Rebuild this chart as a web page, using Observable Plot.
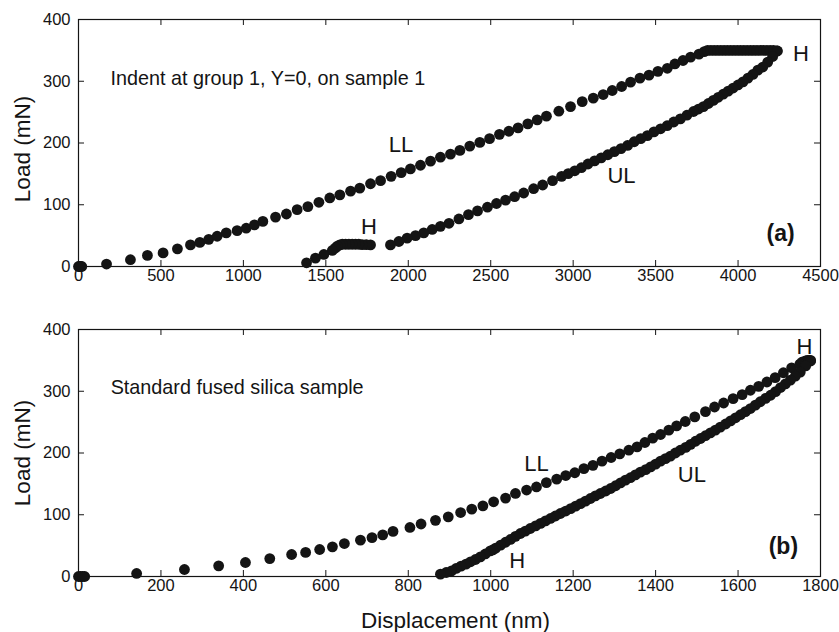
<!DOCTYPE html>
<html>
<head>
<meta charset="utf-8">
<script src="https://cdn.jsdelivr.net/npm/d3@7"></script>
<script src="https://cdn.jsdelivr.net/npm/@observablehq/plot@0.6"></script>
<style>
  html, body { margin: 0; padding: 0; background: #fff; }
  #chart { width: 839px; }
  #chart svg { display: block; }
</style>
</head>
<body>
<div id="chart"></div>
<script>
// ---------- Data ----------
const xTicksA = [0, 500, 1000, 1500, 2000, 2500, 3000, 3500, 4000, 4500];
const xTicksB = [0, 200, 400, 600, 800, 1000, 1200, 1400, 1600, 1800];
const yTicks = [0, 100, 200, 300, 400];

// Panel (a): loading (LL)
const aLoad = [[0,0],[6,0],[12,0],[20,0],
  [170,4],[315,11],[418,18],[513,22],[600,28.6],[679,35],[736,39],[790,44],[841,49],[896,54.5],
  [962,58],[1017,62],[1067,67.5],[1118,73],[1195,80],[1261,85],[1326,92],[1391,97],[1458,104],
  [1524,111],[1585,116],[1650,122],[1706,127],[1771,134],[1832,139],[1896,146],[1957,152],
  [2013,158],[2074,164],[2135,170.6],[2195,177],[2256,182],[2313,188],[2373,195],[2434,201],
  [2493,207],[2553,214],[2610,219],[2666,224.6],[2725,231],[2782,237.5],[2838,243.5],[2913,251.5],
  [2984,259],[3055,267],[3122,272.6],[3182,278.5],[3237,285],[3294,291.5],[3348,298.5],[3405,305],
  [3460,310],[3514,316],[3571,321],[3617,328],[3666,333.6],[3712,339],[3763,344],[3795,348]];
// Panel (a): hold at peak load (H)
const aHoldTop = [[3815,350],[3835,350],[3855,350],[3875,350],[3895,350],[3915,350],[3935,350],
  [3955,350],[3975,350],[3995,350],[4015,350],[4035,350],[4055,350],[4075,350],[4095,350],
  [4115,350],[4135,350],[4155,350],[4175,350],[4195,350],[4215,350],[4235,349]];
// Panel (a): unloading (UL)
const aUnload = [[4239,349],[4210,340],[4180,331],[4150,323],[4120,318],[4090,311],[4060,305],
  [4030,299],[4000,294],[3970,289],[3940,284],[3910,279],[3880,274],[3850,269],[3820,264],
  [3790,259],[3760,255],[3730,251],[3690,245],[3650,239],[3610,234],[3570,228],[3530,223],
  [3490,218],[3450,212],[3410,207],[3370,202],[3330,196],[3290,191],[3250,186],[3210,181],
  [3170,176],[3130,171],[3090,166],[3050,160],[3010,155],[2970,150.5],[2930,146],[2875,139],
  [2815,132],[2760,126],[2700,119],[2645,113],[2590,107.5],[2535,102],[2480,96],[2420,90],
  [2365,84],[2307,77],[2247,70],[2195,65],[2145,60],[2094,54.5],[2044,50],[1993,46],[1943,40.5],
  [1892,35]];
// Panel (a): hold at low load (H) and final unloading
const aHoldLow = [[1771,35],[1745,35.5],[1720,35.5],[1700,36],[1680,36],[1660,36],[1640,36],
  [1620,36],[1600,36],[1585,35],[1570,33],[1558,30]];
const aFinal = [[1539,26],[1488,19.5],[1437,13.5],[1383,6]];

// Panel (b): loading (LL)
const bLoad = [[0,0],[5,0],[10,0],[15,0],
  [141,4.9],[257,11.3],[340,17.3],[405,22.7],[464,29],[517,35.6],[551,39],[585,43.7],[616,48],
  [645,53.4],[684,58.8],[712,63],[738,67.5],[763,73],[804,79.4],[831,85],[866,91],[897,96.6],
  [927,103.6],[954,109],[981,114.4],[1007,121],[1036,127],[1060,134.5],[1087,140],[1111,145],
  [1135,152],[1160,157.6],[1182,163.5],[1204,168],[1226,174.6],[1248,180],[1270,186.8],
  [1292,192.7],[1313,198.5],[1335,204.5],[1355,210],[1374,217],[1393,224],[1412,230],[1432,237],
  [1451,244],[1472,251],[1495,258.5],[1521,267],[1543,274.5],[1565,281],[1588,288],[1610,294.6],
  [1630,301.6],[1650,308],[1670,315],[1690,322],[1710,330],[1730,338],[1750,344]];
// Panel (b): hold at peak load (H)
const bHoldTop = [[1755,347],[1760,348],[1764,349],[1768,350],[1772,350],[1776,350]];
// Panel (b): unloading (UL) incl. low-load hold (H)
const bUnload = [[1776,349],[1764,341],[1751,331],[1739,324.5],[1727,318],[1715,312],[1703,306],
  [1691,299.5],[1679,293.5],[1667,288.5],[1654,283],[1642,277.5],[1630,272],[1618,267],[1606,262],
  [1594,257],[1582,252],[1570,247],[1557,242],[1545,237],[1533,232.7],[1521,228],[1509,223.5],
  [1497,219],[1485,214],[1473,209],[1460,204.5],[1448,200],[1436,195],[1424,191],[1412,186.8],
  [1400,182],[1388,177.6],[1376,173],[1363,169],[1351,164.5],[1339,160],[1327,156],[1315,151.7],
  [1303,147],[1291,142.5],[1279,138.5],[1266,134.4],[1254,130.5],[1242,126.3],[1230,122],
  [1218,118],[1206,114],[1194,110],[1182,106],[1169,102],[1157,98],[1145,94],[1133,90],
  [1121,86],[1109,82],[1096,77.7],[1084,73.5],[1072,69.6],[1060,65],[1048,60],[1036,55.5],
  [1024,50.7],[1012,46],[1005,43],[999,41.6],[987,36.5],[975,31.8],[963,27.5],[951,23.8],
  [940,20],[928,16.7],[916,13],[905,9.2],[892,6.5],[878,3.8]];

// Annotations
const aLabels = [
  {text: "H",  x: 4382, y: 345},
  {text: "LL", x: 1956, y: 197},
  {text: "UL", x: 3293, y: 147},
  {text: "H",  x: 1761, y: 64}
];
const bLabels = [
  {text: "H",  x: 1761, y: 372},
  {text: "LL", x: 1111, y: 182},
  {text: "UL", x: 1488, y: 164},
  {text: "H",  x: 1064, y: 25}
];
const aNote = [{text: "Indent at group 1, Y=0, on sample 1", x: 194, y: 305}];
const bNote = [{text: "Standard fused silica sample", x: 78, y: 306}];
const aTag = [{text: "(a)", x: 4258, y: 53}];
const bTag = [{text: "(b)", x: 1710, y: 49}];

// ---------- Drawing ----------
const FONT = "'Liberation Sans', Arial, Helvetica, sans-serif";
const INK = "#141414";
const W = 839, ML = 78, MR = 19;
const frameW = W - ML - MR;
const TICK = 6;

function panel({height, marginTop, marginBottom, xDomain, xTicks, series, labels, note, tag, yLabelDy, xTitle}) {
  const frameH = height - marginTop - marginBottom;
  const pts = series.flat().map(([x, y]) => ({x, y}));
  const marks = [
    Plot.frame({stroke: INK, strokeWidth: 1.2}),
    Plot.axisX(xTicks, {tickSize: 0, tickPadding: 3, fontSize: 16.5, label: null, tickFormat: d => String(d)}),
    Plot.axisY(yTicks, {tickSize: 0, tickPadding: 8, fontSize: 16.5, label: null, tickFormat: d => String(d)}),
    Plot.tickX(xTicks, {x: d => d, insetTop: frameH - TICK, stroke: INK}),
    Plot.tickX(xTicks, {x: d => d, insetBottom: frameH - TICK, stroke: INK}),
    Plot.tickY(yTicks, {y: d => d, insetRight: frameW - TICK, stroke: INK}),
    Plot.tickY(yTicks, {y: d => d, insetLeft: frameW - TICK, stroke: INK}),
    Plot.dot(pts, {x: "x", y: "y", r: 5.4, fill: INK, stroke: "none"}),
    Plot.text(labels, {x: "x", y: "y", text: "text", fontSize: 22, fill: INK}),
    Plot.text(note, {x: "x", y: "y", text: "text", fontSize: 19.8, textAnchor: "start", fill: INK}),
    Plot.text(tag, {x: "x", y: "y", text: "text", fontSize: 23, fontWeight: "bold", fill: INK}),
    Plot.text(["Load (mN)"], {text: d => d, frameAnchor: "left", dx: -56, dy: yLabelDy, rotate: -90,
      textAnchor: "middle", lineAnchor: "middle", fontSize: 22.5, fill: INK})
  ];
  if (xTitle) {
    marks.push(Plot.text([xTitle], {text: d => d, frameAnchor: "bottom", dy: 44, dx: 6,
      textAnchor: "middle", lineAnchor: "middle", fontSize: 22.5, fill: INK}));
  }
  return Plot.plot({
    width: W, height, marginTop, marginBottom, marginLeft: ML, marginRight: MR,
    x: {domain: xDomain},
    y: {domain: [0, 400]},
    style: {fontFamily: FONT, background: "#fff", color: INK, overflow: "visible"},
    marks
  });
}

const chart = document.getElementById("chart");
chart.appendChild(panel({
  height: 300, marginTop: 19, marginBottom: 34, xDomain: [0, 4500], xTicks: xTicksA,
  series: [aLoad, aHoldTop, aUnload, aHoldLow, aFinal], labels: aLabels, note: aNote, tag: aTag,
  yLabelDy: 6, xTitle: null
}));
chart.appendChild(panel({
  height: 332, marginTop: 29, marginBottom: 56, xDomain: [0, 1800], xTicks: xTicksB,
  series: [bLoad, bHoldTop, bUnload], labels: bLabels, note: bNote, tag: bTag,
  yLabelDy: 0, xTitle: "Displacement (nm)"
}));
</script>
</body>
</html>
